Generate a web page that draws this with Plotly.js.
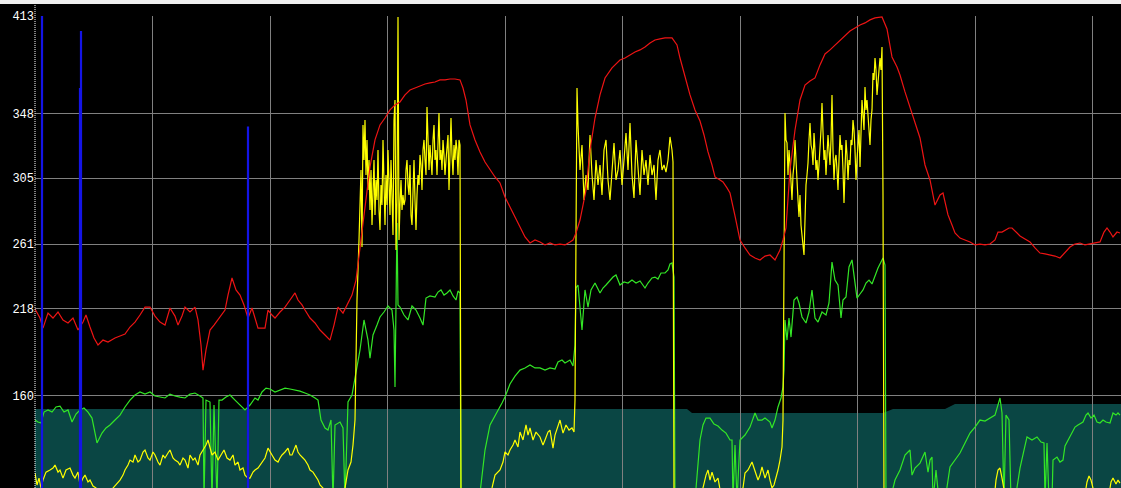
<!DOCTYPE html>
<html>
<head>
<meta charset="utf-8">
<script src="https://cdn.plot.ly/plotly-3.0.1.min.js"></script>
<style>
html,body{margin:0;padding:0;background:#f0f0f0;overflow:hidden;}
#chart{width:1121px;height:484px;margin-top:4px;}
</style>
</head>
<body>
<div id="chart"></div>
<script>
// time (sample position) and value pairs
const yTicks = [413, 348, 305, 261, 218, 160];

const tealLevel = [[0,151],[652,151],[657,148.4],[848,148.4],[858,151],[910,151],[920,154.4],[1086,154.4]];

const redSeries = [[0,217.7],[5,211.7],[8,205],[13,215],[18,211.7],[23,215.7],[28,210.4],[33,208.4],[38,211.7],[43,203.7],[48,209],[51,213.7],[55,205.7],[59,198.4],[63,193.7],[68,197],[73,195.7],[80,198.4],[85,199.7],[90,201],[95,205.7],[100,209],[105,213.7],[110,219],[115,219],[120,213],[125,209],[130,207],[135,218.4],[140,213],[143,207],[147,213],[150,219],[155,215.7],[160,219],[163,210.4],[166,193.7],[168,177],[171,190.4],[175,203.7],[179,207],[183,210.4],[187,213.7],[190,217],[193,227],[197,238.4],[201,230.4],[205,227],[209,220.4],[213,211.7],[217,218.4],[220,211.7],[223,205],[230,205],[233,217],[237,213.7],[240,211.7],[245,215.7],[250,219],[255,223.7],[260,228.4],[263,223.7],[267,220.4],[270,217],[275,211.7],[280,208.4],[285,203.7],[290,200.4],[295,197],[299,207],[303,219],[308,215],[312,220.4],[317,227],[321,237],[325,258.4],[328,277],[331,293.7],[335,312.4],[340,330.4],[345,340.4],[350,345],[355,350.4],[360,353.7],[365,355.7],[370,360.4],[375,363.7],[380,365],[385,366.4],[390,367.7],[395,368.4],[400,369],[405,370.4],[410,370.4],[415,371],[420,371],[425,370.4],[428,365],[431,357],[435,340.4],[440,330.4],[445,322.4],[450,315.7],[455,310.4],[460,305.7],[465,301.7],[470,292.4],[475,285.7],[480,279],[485,271.7],[490,265.7],[495,261.7],[500,263.7],[505,262.4],[510,260.4],[515,261.7],[520,260.4],[525,261],[530,260.4],[535,262.4],[538,263.7],[541,268.4],[545,277],[548,287],[551,297],[555,323.7],[560,345],[565,360.4],[570,371.7],[577,378.4],[585,383.7],[590,385],[595,387],[600,389],[605,390.4],[610,392.4],[615,395],[620,397],[625,397.7],[630,398.4],[637,398.4],[642,393.7],[645,385],[648,377],[652,367],[655,360.4],[660,350.4],[665,343],[669,333.7],[673,322.4],[677,313.7],[680,305.7],[685,303.7],[688,302.4],[692,298.4],[695,295],[700,279.7],[705,263.7],[710,258.4],[715,253.7],[720,251.7],[725,250.4],[730,253],[735,253.7],[740,250.4],[745,257],[748,263.7],[751,271.7],[755,310.4],[760,337],[765,357],[770,367],[775,369.7],[780,371.7],[785,380.4],[790,387.7],[795,390.4],[800,393.7],[805,397],[810,400.4],[815,403],[820,405],[825,407],[830,408.4],[835,410.4],[840,411.7],[847,412.4],[852,404.4],[857,385.7],[862,379],[865,373.7],[870,362.4],[875,352.4],[880,342.4],[885,331.7],[890,313.7],[895,303.7],[900,287],[905,293.7],[908,295],[913,280.4],[917,273.7],[920,268.4],[925,265],[930,263.7],[935,262.4],[940,260.4],[945,261],[950,260.4],[955,261],[960,263.7],[963,269],[967,269],[970,270.4],[974,271.7],[977,271.7],[981,269],[985,266.4],[990,264.4],[995,262.4],[1000,258.4],[1005,255],[1010,254.4],[1015,253.7],[1020,253],[1025,251.7],[1030,255.7],[1035,259],[1040,261],[1045,261.7],[1050,260.4],[1055,261],[1060,261.7],[1065,262.4],[1069,269],[1072,271.7],[1075,269],[1078,265.7],[1082,269],[1085,268.4]];

const greenSeries = [[0,143.7],[3,142.4],[6,141.7],[9,149],[13,150.4],[17,149],[21,152.4],[25,153],[29,149],[33,150.4],[37,142.4],[41,147.7],[45,150.4],[49,151.7],[53,149],[57,145],[62,128.4],[67,135],[71,138.4],[75,140.4],[80,143.7],[85,147],[90,152.4],[95,157],[100,160.4],[105,162.4],[110,161],[115,162.4],[120,159.7],[125,159],[130,158.4],[135,161],[140,159.7],[145,159],[150,158.4],[155,161],[160,161.7],[165,159.7],[168,158.4],[169,90],[171,157],[175,155.7],[177,90],[179,153.7],[182,90],[184,157],[187,157],[191,159],[195,160.4],[200,157],[205,153.7],[210,150.4],[215,153.7],[220,158.4],[223,157],[227,162.4],[231,165],[235,164.4],[240,162.4],[245,163.7],[250,165],[255,164.4],[260,163.7],[265,163],[270,161.7],[275,160.4],[280,158.4],[283,157],[286,143.7],[290,138.4],[293,137],[296,143.7],[298,90],[300,140.4],[305,142.4],[308,138.4],[310,90],[313,155.7],[317,160.4],[321,174.4],[325,190.4],[329,210.4],[333,197],[335,185],[338,200.4],[342,207],[345,212.4],[349,215.7],[353,219.7],[357,217],[359,203.7],[360,165.7],[361,223.7],[362,275],[363,220.4],[365,219],[369,213.7],[373,210.4],[377,219.7],[381,217],[385,211.7],[388,207],[391,225],[395,226.4],[400,225.7],[403,229],[406,230.4],[409,227],[412,228.4],[415,230.4],[418,226.4],[421,223.7],[423,229.7],[425,228.4],[426,90],[443,90],[445,95],[450,123.7],[455,140.4],[459,145],[463,149.7],[467,155],[470,159],[475,167.7],[480,173],[485,177],[490,178.4],[495,180.4],[500,178.4],[505,178.4],[510,177],[515,178.4],[520,177.7],[523,182.4],[527,183.7],[530,181.7],[535,183.7],[538,179.7],[540,193.7],[541,231.7],[543,233.7],[545,220.4],[547,203.7],[550,230.4],[553,219],[556,230.4],[560,235],[565,228.4],[568,231.7],[571,233.7],[575,237],[578,239],[581,240.4],[585,233.7],[589,235.7],[593,235],[597,237],[601,235],[605,236.4],[610,231.7],[613,235],[617,238.4],[620,239],[623,237.7],[626,241.7],[630,241.7],[633,243.7],[635,247.7],[637,248.4],[639,239],[640,90],[660,90],[665,130.4],[668,140.4],[671,145],[675,145],[679,141],[683,139.7],[687,137],[691,135],[695,130.4],[697,130.4],[698,90],[700,127],[702,90],[705,130.4],[710,133.7],[715,139],[720,148.4],[723,143.7],[727,143.7],[730,145],[735,142.4],[737,138.4],[740,143.7],[743,152.4],[746,158.4],[748,165.7],[749,177],[750,210.4],[752,197],[754,211.7],[756,199],[759,223.7],[762,225.7],[764,221.7],[767,212.4],[771,208.4],[774,215.7],[777,230.4],[780,211.7],[783,209],[787,215.7],[791,213.7],[794,221.7],[797,249],[800,237],[803,233.7],[806,211.7],[808,223.7],[811,225.7],[814,245.7],[817,250.4],[820,237],[822,225],[825,227.7],[828,230.4],[831,235],[834,237],[837,234.4],[840,240.4],[843,245],[846,249],[848,251.7],[850,247],[851,90],[855,90],[860,103.7],[865,110.4],[870,120.4],[875,123.7],[877,107],[880,111.7],[885,115],[890,122.4],[893,109],[895,117],[897,119],[898,90],[901,110.4],[904,90],[910,90],[915,112.4],[920,117],[925,121.7],[930,128.4],[935,135],[940,139],[945,143.7],[950,143],[955,145],[960,147],[965,158.4],[967,148.4],[969,90],[971,147],[974,143.7],[976,90],[980,90],[985,111.7],[989,123.7],[992,132.4],[997,130.4],[1002,132.4],[1006,129],[1009,128.4],[1010,90],[1012,128.4],[1014,90],[1017,90],[1018,117],[1022,119],[1025,115.7],[1028,117],[1030,126.4],[1033,130.4],[1037,135],[1040,139],[1043,140.4],[1048,142.4],[1051,147],[1053,148.4],[1056,145],[1059,147],[1062,142.4],[1065,141.7],[1068,143.7],[1071,142.4],[1075,141.7],[1078,148.4],[1081,147],[1083,148.4],[1085,147]];

const yellowSeries = [[0,108.4],[2,100.4],[4,105],[6,98.4],[8,103.7],[11,109],[15,110.4],[18,111.7],[20,113.7],[23,109],[25,110.4],[28,105],[31,110.4],[35,111.7],[38,107],[40,105],[43,109],[45,100.4],[48,105],[50,107],[53,102.4],[55,103.7],[58,99.7],[61,98.4],[65,95],[75,95],[78,98.4],[81,100.4],[85,103.7],[88,107],[90,110.4],[93,113.7],[95,117],[98,115.7],[100,120.4],[103,115.7],[105,117],[108,122.4],[110,123.7],[113,118.4],[115,117],[118,122.4],[120,120.4],[123,115.7],[125,113.7],[128,120.4],[130,118.4],[133,121.7],[135,123.7],[138,118.4],[140,117],[143,115.7],[145,113.7],[148,118.4],[150,117],[153,111.7],[155,120.4],[158,117],[160,118.4],[163,113.7],[165,120.4],[168,123.7],[171,127],[173,130.4],[175,125],[177,120.4],[180,122.4],[183,117],[186,120.4],[189,123.7],[192,118.4],[195,117],[198,120.4],[200,113.7],[203,115.7],[205,110.4],[208,111.7],[210,107],[213,105],[215,105],[218,109],[220,110.4],[223,111.7],[225,113.7],[228,117],[230,118.4],[233,125],[235,122.4],[237,120.4],[240,117],[243,115.7],[245,118.4],[247,120.4],[250,122.4],[253,125],[255,120.4],[257,120.4],[259,123.7],[261,127],[263,122.4],[265,120.4],[268,118.4],[270,117],[273,113.7],[275,110.4],[278,109],[280,107],[283,103.7],[285,100.4],[288,98.4],[290,95],[305,95],[310,98.4],[313,110.4],[316,115.7],[318,127],[320,143.7],[322,223.7],[324,263.7],[326,310.4],[327,259],[328,340.4],[329,317],[330,343.7],[331,307],[332,330.4],[333,297],[334,317],[335,283.7],[336,310.4],[337,273.7],[338,297],[339,317],[340,280.4],[341,303.7],[342,290.4],[343,323.7],[344,283.7],[345,270.4],[346,300.4],[347,287],[348,330.4],[349,293.7],[350,273.7],[351,307],[352,287],[353,323.7],[354,290.4],[355,280.4],[356,317],[357,293.7],[358,267],[359,343.7],[360,357],[361,257],[362,290.4],[363,412.4],[364,263.7],[365,287],[366,303.7],[367,283.7],[368,293.7],[369,287],[370,290.4],[371,310.4],[372,317],[373,300.4],[374,293.7],[375,313.7],[376,280.4],[377,273.7],[378,303.7],[379,317],[380,290.4],[381,270.4],[382,293.7],[383,307],[384,300.4],[385,320.4],[386,313.7],[387,297],[388,323.7],[389,330.4],[390,317],[391,307],[392,352.4],[393,323.7],[394,310.4],[395,327],[396,313.7],[397,307],[398,330.4],[399,340.4],[400,317],[401,323.7],[402,307],[403,327],[404,348.4],[405,317],[406,323.7],[407,310.4],[408,330.4],[409,320.4],[410,307],[411,317],[412,327],[413,333.7],[414,297],[415,317],[416,345],[417,320.4],[418,307],[419,327],[420,317],[421,330.4],[422,323.7],[423,307],[424,330.4],[425,327],[426,90],[453,90],[457,98.4],[460,107],[463,109],[465,110.4],[468,115.7],[470,122.4],[473,120.4],[475,123.7],[478,127],[480,130.4],[483,125.7],[485,135.7],[488,130.4],[491,140.4],[493,133.7],[495,138.4],[498,130.4],[501,135.7],[505,132.4],[508,127],[510,130.4],[513,135.7],[515,137],[518,125],[520,133.7],[522,138.4],[525,143.7],[528,135],[531,140.4],[534,137],[537,138.4],[539,135.7],[540,157],[541,267],[542,365],[543,340.4],[545,310.4],[547,327],[549,290.4],[551,307],[553,297],[555,333.7],[557,307],[559,290.4],[561,317],[563,300.4],[565,313.7],[567,293.7],[569,323.7],[571,330.4],[573,303.7],[575,290.4],[577,313.7],[579,328.4],[581,303.7],[583,310.4],[585,323.7],[587,300.4],[589,317],[591,335],[593,310.4],[595,341.7],[597,307],[599,291.7],[601,330.4],[603,313.7],[605,293.7],[607,323.7],[609,307],[611,317],[613,300.4],[615,320.4],[617,307],[619,313.7],[621,290.4],[623,317],[625,323.7],[627,310.4],[629,313.7],[631,309],[633,317],[635,332.4],[637,323.7],[638,315.7],[639,90],[665,90],[668,98.4],[671,107],[673,110.4],[675,103.7],[677,109],[680,102.4],[683,105],[685,98.4],[687,90],[705,90],[708,98.4],[710,108.4],[713,110.4],[717,115.7],[720,110.4],[723,103.7],[725,107],[727,112.4],[730,105],[733,110.4],[735,103.7],[737,98.4],[739,100.4],[741,105],[743,110.4],[745,117],[747,125.7],[748,143.7],[749,223.7],[750,348.4],[751,330.4],[752,328.4],[753,307],[754,323.7],[755,315],[756,300.4],[757,290.4],[758,307],[759,313.7],[760,330.4],[761,313.7],[762,297],[763,290.4],[764,279],[765,293.7],[766,273.7],[767,268.4],[768,260.4],[769,253.7],[770,283.7],[771,300.4],[772,307],[773,315],[774,330.4],[775,341.7],[776,327],[777,323.7],[778,313.7],[779,335],[780,323.7],[781,310.4],[782,317],[783,303.7],[784,313.7],[785,323.7],[786,337],[787,355],[788,330.4],[789,317],[790,323.7],[791,307],[792,320.4],[793,333.7],[794,323.7],[795,313.7],[796,330.4],[797,360.4],[798,323.7],[799,303.7],[800,317],[801,320.4],[802,310.4],[803,297],[804,317],[805,333.7],[806,323.7],[807,327],[808,310.4],[809,288.4],[810,310.4],[811,330.4],[812,320.4],[813,303.7],[814,317],[815,313.7],[816,330.4],[817,327],[818,343.7],[819,337],[820,323.7],[821,303.7],[822,317],[823,327],[824,337],[825,312.4],[826,330.4],[827,357],[828,347],[829,337],[830,365.7],[831,350.4],[832,357],[833,343.7],[834,333.7],[835,327],[836,343.7],[837,350.4],[838,375],[839,370.4],[840,385],[841,377],[842,360.4],[843,370.4],[844,380.4],[845,385],[846,377],[847,392.4],[848,293.7],[849,90],[959,90],[961,103.7],[963,110.4],[965,111.7],[967,105],[969,98.4],[971,90],[1049,90],[1052,102.4],[1054,106.4],[1056,103.7],[1058,98.4],[1060,90],[1073,90],[1076,102.4],[1078,105],[1081,101],[1083,103.7],[1085,101.7]];

const blueSpikeTimes = [7, 46, 45, 213];
const blueSpikeTops = [413, 403, 365, 339.4];
const blueBase = 90;

// build traces
const xs = s => s.map(p => p[0]);
const ys = s => s.map(p => p[1]);

const blueX = [], blueY = [];
blueSpikeTimes.forEach((t, i) => {
  blueX.push(t, t, null);
  blueY.push(blueBase, blueSpikeTops[i], null);
});

let tealPath = 'M ' + tealLevel[0][0] + ',' + blueBase;
tealLevel.forEach(p => { tealPath += ' L ' + p[0] + ',' + p[1]; });
tealPath += ' L ' + tealLevel[tealLevel.length - 1][0] + ',' + blueBase + ' Z';

const traces = [
  {x: xs(greenSeries), y: ys(greenSeries), mode: 'lines', line: {color: '#33e626', width: 1.2}, hoverinfo: 'skip'},
  {x: xs(yellowSeries), y: ys(yellowSeries), mode: 'lines', line: {color: '#ffff00', width: 1.2}, hoverinfo: 'skip'},
  {x: xs(redSeries), y: ys(redSeries), mode: 'lines', line: {color: '#ee1414', width: 1.2}, hoverinfo: 'skip'},
  {x: blueX, y: blueY, mode: 'lines', line: {color: '#1414e6', width: 2.2}, connectgaps: false, hoverinfo: 'skip'}
];

const layout = {
  width: 1121, height: 484,
  margin: {l: 35, r: 0, t: 12, b: 0, pad: 0},
  paper_bgcolor: '#000000', plot_bgcolor: '#000000',
  showlegend: false,
  xaxis: {range: [0, 1086], tick0: 0, dtick: 117.5, showticklabels: false, ticks: '',
          showgrid: true, gridcolor: '#808080', gridwidth: 1, zeroline: false, showline: false, fixedrange: true},
  yaxis: {range: [98.4, 413], tickmode: 'array', tickvals: yTicks, ticktext: yTicks.map(String), ticks: '',
          showgrid: true, gridcolor: '#808080', gridwidth: 1, zeroline: false, showline: false, fixedrange: true,
          tickfont: {family: 'Liberation Mono, DejaVu Sans Mono, monospace', size: 12, color: '#ffffff'}},
  shapes: [
    {type: 'path', xref: 'x', yref: 'y', path: tealPath, fillcolor: '#0a4644', line: {width: 0}, layer: 'below'},
    {type: 'line', xref: 'paper', yref: 'paper', x0: 0, x1: 0, y0: 0, y1: 1 + 11/472,
     line: {color: '#ffffff', width: 1, dash: '1px,1px'}, layer: 'above'}
  ]
};

Plotly.newPlot('chart', traces, layout, {displayModeBar: false, staticPlot: true});
</script>
</body>
</html>
